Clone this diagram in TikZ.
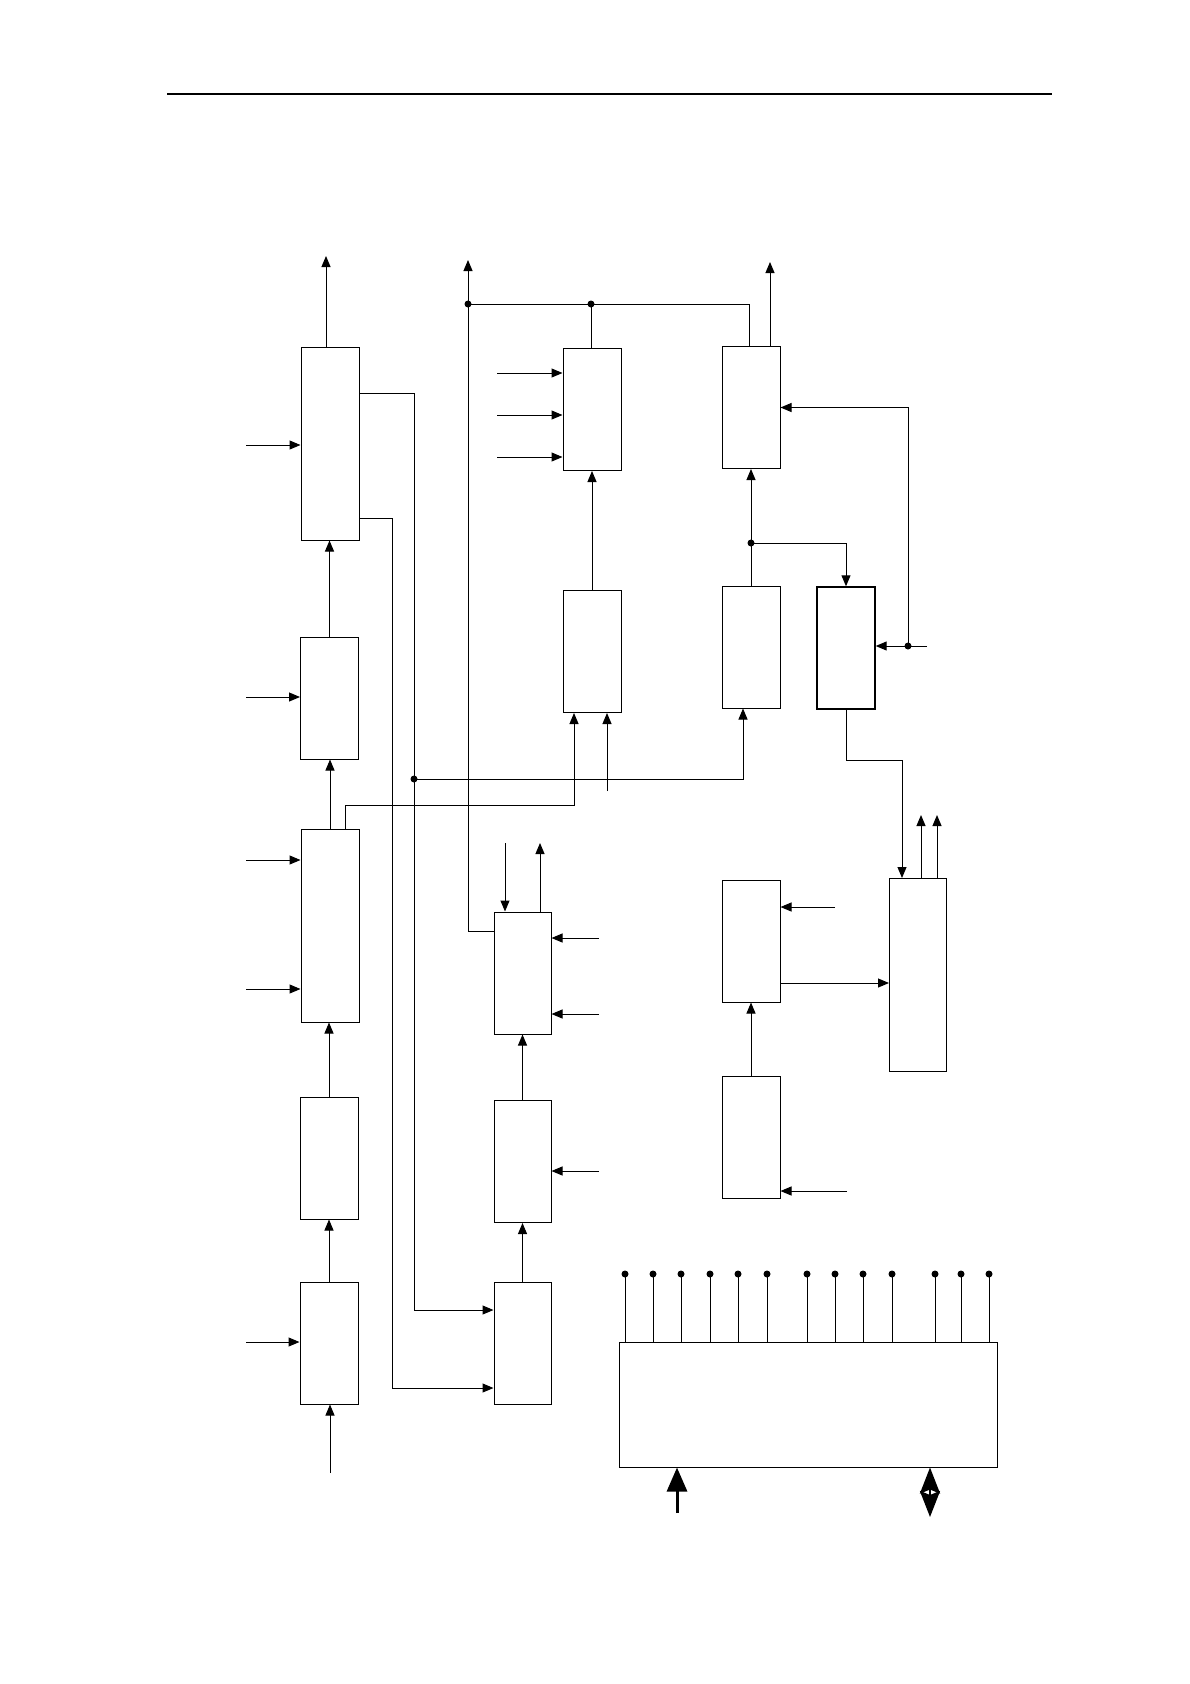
\documentclass[tikz,border=0pt]{standalone}
\usetikzlibrary{arrows.meta}
\tikzset{
  blk/.style={draw, rectangle, line width=1pt, inner sep=0pt, minimum width=58pt, minimum height=122pt},
  tall/.style={blk, minimum height=193pt},
  wire/.style={line width=1pt},
  sig/.style={wire, -{Triangle[length=11pt,width=9pt]}},
  bigsig/.style={line width=3pt, -{Triangle[length=24pt,width=20pt]}},
  bothsig/.style={line width=2.5pt, {Stealth[length=26pt,width=20pt,inset=4pt]}-{Stealth[length=26pt,width=20pt,inset=4pt]}},
}
\begin{document}
\begin{tikzpicture}[x=1pt, y=-1pt]
    \useasboundingbox (0,0) rectangle (1190,1684);
    % rule at the head of the page
    \draw[line width=2pt] (167,94) -- (1052,94);

    % left column
    \node[tall] (A) at (330,443.5) {};
    \node[blk] (D) at (329.5,698) {};
    \node[tall] (E) at (330,925.5) {};
    \node[blk] (J) at (329,1158) {};
    \node[blk] (N) at (329,1343) {};

    % middle column
    \node[blk] (B) at (592,409.5) {};
    \node[blk] (F) at (592,651.5) {};
    \node[blk, minimum width=57pt] (L) at (522.5,973) {};
    \node[blk, minimum width=57pt] (M) at (522.5,1161.5) {};
    \node[blk, minimum width=57pt] (P) at (522.5,1343) {};

    % right column
    \node[blk] (C) at (751,407.5) {};
    \node[blk] (G) at (751,647) {};
    \node[blk, line width=1.4pt] (H) at (846,648) {};
    \node[blk] (Q) at (751,941) {};
    \node[blk] (R) at (751,1137) {};
    \node[tall, minimum width=57pt] (K) at (918,975) {};

    % wide block at the bottom
    \node[blk, minimum width=378pt, minimum height=125pt] (S) at (808,1404.5) {};

    % left column chain
    \coordinate (aout) at (326,256);
    \draw[sig] (A.north -| aout) -- (aout);
    \draw[sig] (D.north) -- (D.north |- A.south);
    \draw[sig] (E.north) -- (E.north |- D.south);
    \draw[sig] (J.north) -- (J.north |- E.south);
    \draw[sig] (N.north) -- (N.north |- J.south);
    \coordinate (nin) at (330,1473);
    \draw[sig] (nin) -- (nin |- N.south);
    \foreach \nm/\yy in {A/445, D/697, E/860, E/989, N/1342}
      \draw[sig] (246,\yy) -- (\nm.west |- 0,\yy);

    % two long wires from A down to P
    \coordinate (busA) at (414,393);
    \coordinate (busB) at (392,518);
    \draw[sig] (A.east |- busA) -- (busA) |- ([yshift=33]P.west);
    \draw[sig] (A.east |- busB) -- (busB) |- ([yshift=-45]P.west);
    \coordinate (jA) at (414,779);
    \fill (jA) circle (3.5);
    \draw[sig] (jA) -| ([xshift=-8]G.south);

    % E feeds F
    \draw[sig] ([xshift=15]E.north) |- (574,805) -- ([xshift=-18]F.south);
    \coordinate (fin) at (607,791);
    \draw[sig] (fin) -- (fin |- F.south);
    \draw[sig] (F.north) -- (B.south);
    \foreach \yy in {373,415,457}
      \draw[sig] (497,\yy) -- (B.west |- 0,\yy);

    % top bus
    \coordinate (tout) at (468,260);
    \coordinate (tL) at (468,304);
    \coordinate (tM) at (591,304);
    \draw[sig] ([yshift=42]L.west) -| (tout);
    \draw[wire] (tL) -| ([xshift=-2]C.north);
    \draw[wire] (tM) -- (tM |- B.north);
    \fill (tL) circle (3.5);
    \fill (tM) circle (3.5);

    % right column
    \coordinate (cout) at (770,262);
    \draw[sig] (C.north -| cout) -- (cout);
    \draw[sig] (G.north) -- (C.south);
    \coordinate (jG) at (751,543);
    \fill (jG) circle (3.5);
    \draw[sig] (jG) -| (H.north);
    \coordinate (jH) at (908,646);
    \fill (jH) circle (3.5);
    \draw[sig] (jH) |- (C.east);
    \coordinate (hin) at (927,646);
    \draw[sig] (hin) -- (hin -| H.east);
    \draw[sig] (H.south) -- ++(0,51) -| ([xshift=-16]K.north);
    \draw[sig] ([xshift=3]K.north) -- ++(0,-63);
    \draw[sig] ([xshift=19]K.north) -- ++(0,-63);

    \coordinate (qin) at (835,907);
    \draw[sig] (qin) -- (qin -| Q.east);
    \coordinate (qk) at ([yshift=-42]Q.east);
    \draw[sig] (qk) -- (qk -| K.west);
    \draw[sig] (R.north) -- (R.north |- Q.south);
    \coordinate (rin) at (847,1191);
    \draw[sig] (rin) -- (rin -| R.east);

    % middle lower chain
    \draw[sig] (505,843) -- (505,843 |- L.north);
    \coordinate (lup) at (540,843);
    \draw[sig] (L.north -| lup) -- (lup);
    \foreach \yy in {938,1014}
      \draw[sig] (599,\yy) -- (L.east |- 0,\yy);
    \draw[sig] (599,1171) -- (M.east |- 0,1171);
    \draw[sig] (M.north) -- (L.south);
    \draw[sig] (P.north) -- (M.south);

    % pins of the wide block
    \foreach \px in {625,653,681,710,738,767,807,835,863,892,935,961,989} {
      \draw[wire] (\px,1274) -- (S.north -| \px,0);
      \fill (\px,1274) circle (3.5);
    }
    \coordinate (sin) at (677,1513);
    \draw[bigsig] (sin) -- (sin |- S.south);
    \coordinate (sio) at (930,1517);
    \draw[bothsig] (S.south -| sio) -- (sio);
\end{tikzpicture}
\end{document}
